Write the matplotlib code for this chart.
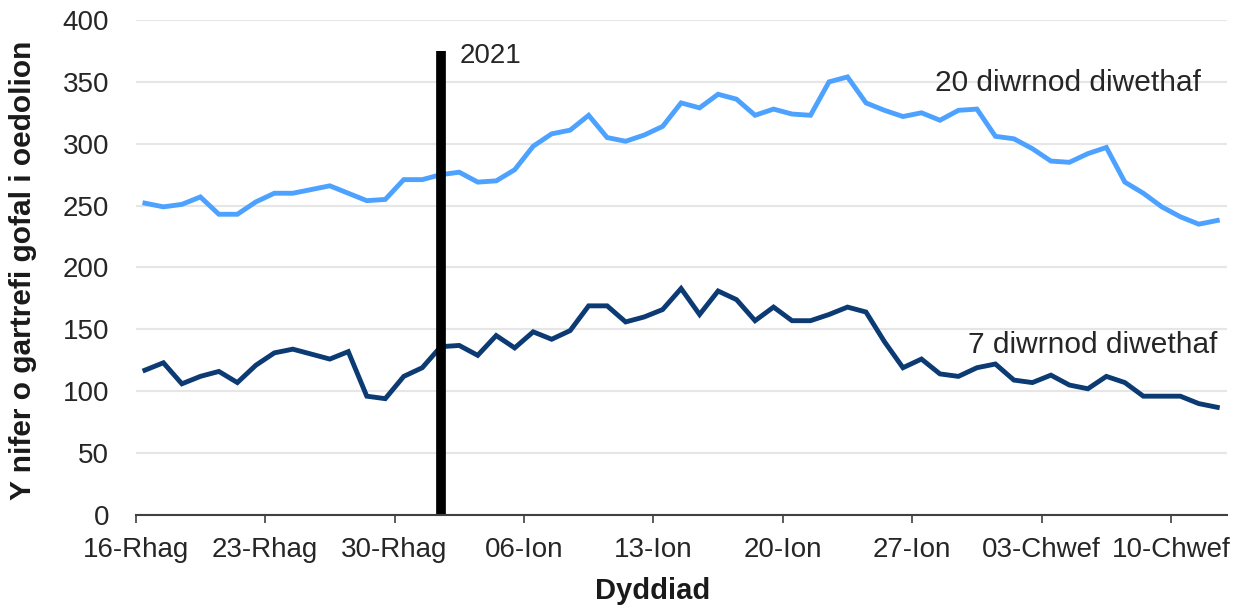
import numpy as np
import matplotlib
matplotlib.use("Agg")
import matplotlib.pyplot as plt

plt.rcParams['font.family'] = ['Liberation Sans', 'DejaVu Sans']

# %% data, one value per day from 16-Rhag (16 Dec) to 12-Chwef (12 Feb)
last_20_days = [252, 249, 251, 257, 243, 243, 253, 260, 260, 263, 266, 260, 254, 255, 271,
                271, 275, 277, 269, 270, 279, 298, 308, 311, 323, 305, 302, 307, 314, 333,
                329, 340, 336, 323, 328, 324, 323, 350, 354, 333, 327, 322, 325, 319, 327,
                328, 306, 304, 296, 286, 285, 292, 297, 269, 260, 249, 241, 235, 238]
last_7_days = [117, 123, 106, 112, 116, 107, 121, 131, 134, 130, 126, 132, 96, 94, 112,
               119, 136, 137, 129, 145, 135, 148, 142, 149, 169, 169, 156, 160, 166, 183,
               162, 181, 174, 157, 168, 157, 157, 162, 168, 164, 140, 119, 126, 114, 112,
               119, 122, 109, 107, 113, 105, 102, 112, 107, 96, 96, 96, 90, 87]
tick_labels = ['16-Rhag', '23-Rhag', '30-Rhag', '06-Ion', '13-Ion', '20-Ion', '27-Ion',
               '03-Chwef', '10-Chwef']
year_mark_day = 16  # 01-Ion 2021
year_mark_top = 375

days = np.arange(len(last_20_days))

# %%
fig = plt.figure(figsize=(12.48, 6.06), dpi=100)
ax = fig.add_axes([0.1087, 0.1502, 0.8741, 0.8168])

ax.plot(days + 0.5, last_20_days, color='#4da2ff', lw=3.5, solid_joinstyle='miter', zorder=3)
ax.plot(days + 0.5, last_7_days, color='#0c3a73', lw=3.5, solid_joinstyle='miter', zorder=3)
ax.vlines(year_mark_day + 0.5, 0, year_mark_top, color='black', lw=7, zorder=4)

txt = dict(color='#262626')
ax.text(year_mark_day + 1.5, 371, '2021', ha='left', va='center', fontsize=20, **txt)
ax.text(57.6, 349, '20 diwrnod diwethaf', ha='right', va='center', fontsize=21.5, **txt)
ax.text(58.5, 137, '7 diwrnod diwethaf', ha='right', va='center', fontsize=21.5, **txt)

ax.set_xlim(0, len(days))
ax.set_ylim(0, 400)
ax.set_xticks(np.arange(0, len(days), 7))
ax.set_xticklabels(tick_labels)
ax.set_yticks(np.arange(0, 401, 50))
ax.tick_params(axis='x', labelsize=20, colors='#262626', length=6, width=1.2, pad=10,
               color='#404040')
ax.tick_params(axis='y', labelsize=20, colors='#262626', length=0, pad=19)

ax.grid(axis='y', color='#e6e6e6', lw=1.5)
ax.set_axisbelow(True)
for side in ['left', 'right', 'top']:
    ax.spines[side].set_visible(False)
ax.spines['bottom'].set_color('#404040')
ax.spines['bottom'].set_linewidth(1.5)
ax.spines['bottom'].set_zorder(5)

fig.text(653 / 1248, 1 - 591 / 606, 'Dyddiad', ha='center', va='center',
         fontsize=21, fontweight='bold', color='#1a1a1a')
fig.text(23 / 1248, 1 - 270 / 606, 'Y nifer o gartrefi gofal i oedolion', ha='center',
         va='center', rotation=90, fontsize=21.5, fontweight='bold', color='#1a1a1a')

fig.savefig('out.png', dpi=100, facecolor='white')
